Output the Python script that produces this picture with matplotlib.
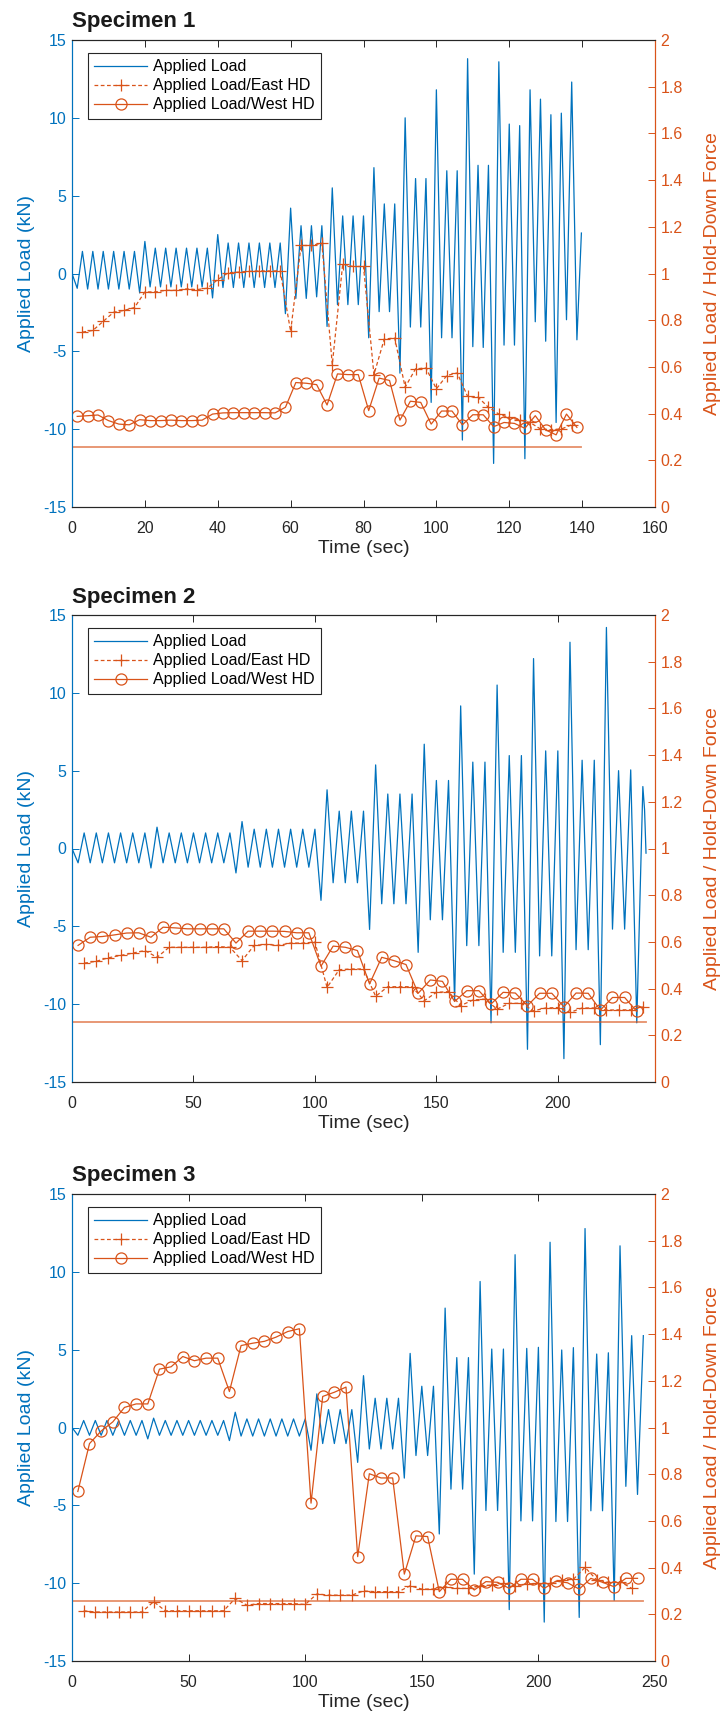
import matplotlib
matplotlib.use('Agg')
import matplotlib.pyplot as plt
import numpy as np
from matplotlib.ticker import FuncFormatter

plt.rcParams['font.family'] = ['Liberation Sans', 'DejaVu Sans']
plt.rcParams['axes.unicode_minus'] = False

BLUE = '#0072BD'
ORANGE = '#D95319'
DARK = '#262626'

# ---------------- Specimen 1 ----------------
s1_peak_t = [2.86, 5.71, 8.57, 11.43, 14.29, 17.14, 20.00, 22.86, 25.71, 28.57, 31.43, 34.29,
             37.14, 40.00, 42.86, 45.71, 48.57, 51.43, 54.29, 57.14, 60.00, 62.86, 65.71, 68.57,
             71.43, 74.29, 77.14, 80.00, 82.86, 85.71, 88.57, 91.43, 94.29, 97.14, 100.00, 102.86,
             105.71, 108.57, 111.43, 114.29, 117.14, 120.00, 122.86, 125.71, 128.57, 131.43, 134.29, 137.14]
s1_peak_v = [1.42, 1.42, 1.42, 1.42, 1.42, 1.42, 2.06, 1.63, 1.63, 1.63, 1.63, 1.63, 1.63,
             2.50, 1.96, 1.96, 1.96, 1.96, 1.96, 1.96, 4.20, 3.07, 3.07, 3.07, 5.50, 3.70, 3.70,
             3.70, 6.80, 4.47, 4.47, 10.0, 6.10, 6.10, 11.8, 6.60, 6.60, 13.8, 6.95, 6.95, 13.6,
             9.60, 9.50, 11.8, 11.2, 10.2, 10.3, 12.3]
s1_trough_t = [1.43, 4.29, 7.14, 10.00, 12.86, 15.71, 18.57, 21.43, 24.29, 27.14, 30.00, 32.86,
               35.71, 38.57, 41.43, 44.29, 47.14, 50.00, 52.86, 55.71, 58.57, 61.43, 64.29, 67.14,
               70.00, 72.86, 75.71, 78.57, 81.43, 84.29, 87.14, 90.00, 92.86, 95.71, 98.57, 101.43,
               104.29, 107.14, 110.00, 112.86, 115.71, 118.57, 121.43, 124.29, 127.14, 130.00,
               132.86, 135.71, 138.57]
s1_trough_v = [-0.95, -1.0, -1.0, -1.0, -1.0, -1.0, -1.25, -0.86, -0.86, -0.86, -0.86, -0.86,
               -0.86, -1.57, -0.9, -0.9, -0.9, -0.9, -0.9, -0.9, -2.58, -1.6, -1.6, -1.5, -3.4,
               -2.0, -2.0, -2.0, -4.13, -2.45, -2.45, -6.4, -3.44, -3.44, -8.28, -4.13, -4.13,
               -10.7, -4.7, -4.75, -12.2, -4.6, -4.6, -11.9, -3.1, -4.35, -9.57, -2.97, -4.26]
s1_start = (0.0, 0.0)
s1_end = [(139.8, 2.6)]
s1_east_v = [0.749, 0.756, 0.795, 0.834, 0.842, 0.854, 0.921, 0.921, 0.928, 0.928, 0.934, 0.931,
             0.937, 0.974, 1.003, 1.006, 1.009, 1.011, 1.011, 1.011, 0.752, 1.12, 1.12, 1.13,
             0.61, 1.04, 1.03, 1.03, 0.567, 0.72, 0.723, 0.513, 0.592, 0.595, 0.506, 0.563,
             0.574, 0.474, 0.47, 0.427, 0.398, 0.384, 0.372, 0.362, 0.334, 0.331, 0.334, 0.352]
s1_west_v = [0.388, 0.391, 0.394, 0.37, 0.355, 0.352, 0.374, 0.37, 0.37, 0.372, 0.37, 0.37,
             0.372, 0.398, 0.403, 0.404, 0.404, 0.404, 0.404, 0.403, 0.427, 0.533, 0.53, 0.524,
             0.437, 0.57, 0.567, 0.567, 0.413, 0.552, 0.542, 0.372, 0.453, 0.448, 0.355, 0.411,
             0.411, 0.352, 0.395, 0.395, 0.344, 0.362, 0.358, 0.337, 0.391, 0.33, 0.309, 0.398, 0.341]
s1_ref_t = [0.0, 139.8]
s1_ref_v = 0.257
s1_xticks = [0, 20, 40, 60, 80, 100, 120, 140, 160]

# ---------------- Specimen 2 ----------------
s2_peak_t = [5, 10, 15, 20, 25, 30, 35, 40, 45, 50, 55, 60, 65, 70, 75, 80, 85, 90, 95, 100,
             105, 110, 115, 120, 125, 130, 135, 140, 145, 150, 155, 160, 165, 170, 175, 180,
             185, 190, 195, 200, 205, 210, 215, 220, 225, 230, 235]
s2_peak_v = [1.0, 1.0, 1.0, 1.0, 1.0, 1.0, 1.37, 1.0, 1.0, 1.0, 1.0, 1.0, 1.0, 1.73, 1.24,
             1.24, 1.24, 1.24, 1.24, 1.24, 3.77, 2.4, 2.4, 2.4, 5.37, 3.5, 3.5, 3.5, 6.7, 4.37,
             4.37, 9.16, 5.55, 5.55, 10.5, 5.97, 5.97, 12.2, 6.27, 6.27, 13.25, 5.67, 5.67,
             14.2, 5.0, 5.05, 3.98]
s2_trough_t = [2.5, 7.5, 12.5, 17.5, 22.5, 27.5, 32.5, 37.5, 42.5, 47.5, 52.5, 57.5, 62.5,
               67.5, 72.5, 77.5, 82.5, 87.5, 92.5, 97.5, 102.5, 107.5, 112.5, 117.5, 122.5,
               127.5, 132.5, 137.5, 142.5, 147.5, 152.5, 157.5, 162.5, 167.5, 172.5, 177.5,
               182.5, 187.5, 192.5, 197.5, 202.5, 207.5, 212.5, 217.5, 222.5, 227.5, 232.5]
s2_trough_v = [-0.92, -0.92, -0.92, -0.92, -0.92, -0.92, -1.25, -0.92, -0.92, -0.92, -0.92,
               -0.92, -0.92, -1.57, -1.2, -1.2, -1.2, -1.2, -1.2, -1.2, -3.33, -2.2, -2.2, -2.2,
               -5.2, -3.55, -3.55, -3.55, -6.67, -4.58, -4.58, -9.8, -6.24, -6.24, -11.2, -6.67,
               -6.67, -12.9, -6.9, -6.9, -13.5, -6.5, -6.5, -12.6, -5.18, -5.18, -11.2]
s2_start = (0.0, 0.0)
s2_end = [(235.7, 2.5), (236.3, -0.3)]
s2_east_v = [0.509, 0.517, 0.532, 0.542, 0.552, 0.563, 0.534, 0.577, 0.577, 0.577, 0.577, 0.58,
             0.577, 0.52, 0.585, 0.589, 0.585, 0.595, 0.595, 0.599, 0.405, 0.481, 0.484, 0.484,
             0.367, 0.408, 0.408, 0.408, 0.348, 0.384, 0.387, 0.327, 0.351, 0.355, 0.312, 0.337,
             0.337, 0.305, 0.317, 0.319, 0.298, 0.317, 0.317, 0.308, 0.309, 0.309, 0.322]
s2_west_v = [0.585, 0.62, 0.623, 0.63, 0.638, 0.639, 0.62, 0.663, 0.66, 0.656, 0.656, 0.656,
             0.656, 0.595, 0.646, 0.646, 0.646, 0.645, 0.639, 0.639, 0.496, 0.582, 0.577, 0.563,
             0.42, 0.534, 0.52, 0.503, 0.38, 0.437, 0.431, 0.345, 0.391, 0.391, 0.334, 0.384,
             0.381, 0.327, 0.38, 0.38, 0.322, 0.381, 0.38, 0.308, 0.362, 0.362, 0.302]
s2_ref_t = [0.0, 236.3]
s2_ref_v = 0.258
s2_xticks = [0, 50, 100, 150, 200]

# ---------------- Specimen 3 ----------------
s3_peak_t = [5, 10, 15, 20, 25, 30, 35, 40, 45, 50, 55, 60, 65, 70, 75, 80, 85, 90, 95, 100,
             105, 110, 115, 120, 125, 130, 135, 140, 145, 150, 155, 160, 165, 170, 175, 180,
             185, 190, 195, 200, 205, 210, 215, 220, 225, 230, 235, 240, 245]
s3_peak_v = [0.45, 0.45, 0.45, 0.45, 0.45, 0.45, 0.6, 0.45, 0.45, 0.45, 0.45, 0.45, 0.45, 0.98,
             0.55, 0.55, 0.55, 0.55, 0.55, 0.55, 2.16, 1.15, 1.15, 1.15, 3.33, 1.88, 1.88, 1.88,
             4.76, 2.65, 2.65, 7.67, 4.49, 4.49, 9.38, 5.04, 5.04, 11.1, 5.08, 5.15, 11.9, 4.98,
             5.13, 12.78, 4.72, 4.8, 11.67, 5.9, 5.9]
s3_trough_t = [2.5, 7.5, 12.5, 17.5, 22.5, 27.5, 32.5, 37.5, 42.5, 47.5, 52.5, 57.5, 62.5,
               67.5, 72.5, 77.5, 82.5, 87.5, 92.5, 97.5, 102.5, 107.5, 112.5, 117.5, 122.5,
               127.5, 132.5, 137.5, 142.5, 147.5, 152.5, 157.5, 162.5, 167.5, 172.5, 177.5,
               182.5, 187.5, 192.5, 197.5, 202.5, 207.5, 212.5, 217.5, 222.5, 227.5, 232.5,
               237.5, 242.5]
s3_trough_v = [-0.5, -0.5, -0.5, -0.5, -0.5, -0.5, -0.73, -0.5, -0.5, -0.5, -0.5, -0.5, -0.5,
               -0.84, -0.55, -0.55, -0.55, -0.55, -0.55, -0.55, -1.46, -1.03, -1.03, -1.03,
               -2.24, -1.38, -1.38, -1.38, -3.25, -1.8, -1.8, -6.84, -3.96, -3.96, -9.42, -5.33,
               -5.33, -11.7, -6.0, -6.0, -12.5, -6.04, -6.04, -12.2, -5.35, -5.35, -11.1, -3.78, -4.3]
s3_start = (0.0, 0.0)
s3_end = []
s3_east_v = [0.215, 0.21, 0.21, 0.21, 0.21, 0.21, 0.254, 0.215, 0.215, 0.215, 0.215, 0.215,
             0.215, 0.268, 0.239, 0.246, 0.246, 0.246, 0.246, 0.242, 0.287, 0.282, 0.282, 0.282,
             0.3, 0.297, 0.297, 0.297, 0.322, 0.308, 0.308, 0.318, 0.311, 0.311, 0.322, 0.325,
             0.332, 0.322, 0.33, 0.332, 0.332, 0.347, 0.35, 0.401, 0.347, 0.337, 0.34, 0.311]
s3_west_v = [0.726, 0.931, 0.985, 1.024, 1.086, 1.101, 1.101, 1.25, 1.26, 1.304, 1.286, 1.297,
             1.297, 1.154, 1.351, 1.361, 1.369, 1.387, 1.411, 1.423, 0.676, 1.133, 1.151, 1.173,
             0.447, 0.802, 0.784, 0.784, 0.372, 0.536, 0.533, 0.297, 0.35, 0.35, 0.304, 0.34,
             0.337, 0.311, 0.35, 0.35, 0.311, 0.342, 0.335, 0.308, 0.354, 0.337, 0.318, 0.354, 0.354]
s3_ref_t = [0.0, 245.0]
s3_ref_v = 0.256
s3_xticks = [0, 50, 100, 150, 200, 250]

titles = ['Specimen 1', 'Specimen 2', 'Specimen 3']
legend_labels = ['Applied Load', 'Applied Load/East HD', 'Applied Load/West HD']
left_yticks = [-15, -10, -5, 0, 5, 10, 15]
right_yticks = [0, 0.2, 0.4, 0.6, 0.8, 1.0, 1.2, 1.4, 1.6, 1.8, 2.0]


def load_series(start, t_tr, v_tr, t_pk, v_pk, end):
    t = [start[0]] + list(t_tr) + list(t_pk) + [e[0] for e in end]
    v = [start[1]] + list(v_tr) + list(v_pk) + [e[1] for e in end]
    order = np.argsort(t, kind='stable')
    return np.asarray(t)[order], np.asarray(v)[order]


W, H = 728, 1720
fig = plt.figure(figsize=(W / 100, H / 100), dpi=100)

ax_left_px, ax_right_px = 72, 655
ax_h_px = 467
tops_px = [40, 615, 1194]

specs = [
    dict(title=titles[0], start=s1_start, tt=s1_trough_t, tv=s1_trough_v, pt=s1_peak_t, pv=s1_peak_v,
         end=s1_end, east=s1_east_v, west=s1_west_v, ref_t=s1_ref_t, ref_v=s1_ref_v,
         xlim=(0, 160), xticks=s1_xticks),
    dict(title=titles[1], start=s2_start, tt=s2_trough_t, tv=s2_trough_v, pt=s2_peak_t, pv=s2_peak_v,
         end=s2_end, east=s2_east_v, west=s2_west_v, ref_t=s2_ref_t, ref_v=s2_ref_v,
         xlim=(0, 240), xticks=s2_xticks),
    dict(title=titles[2], start=s3_start, tt=s3_trough_t, tv=s3_trough_v, pt=s3_peak_t, pv=s3_peak_v,
         end=s3_end, east=s3_east_v, west=s3_west_v, ref_t=s3_ref_t, ref_v=s3_ref_v,
         xlim=(0, 250), xticks=s3_xticks),
]

fmt = FuncFormatter(lambda v, p: f'{v:g}')

for spec, top in zip(specs, tops_px):
    rect = [ax_left_px / W, 1 - (top + ax_h_px) / H, (ax_right_px - ax_left_px) / W, ax_h_px / H]
    ax = fig.add_axes(rect)
    ax2 = ax.twinx()

    t, v = load_series(spec['start'], spec['tt'], spec['tv'], spec['pt'], spec['pv'], spec['end'])
    h_load, = ax.plot(t, v, color=BLUE, lw=0.9)

    ax2.plot(spec['ref_t'], [spec['ref_v'], spec['ref_v']], color=ORANGE, lw=1.3, alpha=0.65)
    east_t = spec['pt'][:len(spec['east'])]
    west_t = spec['tt'][:len(spec['west'])]
    h_east, = ax2.plot(east_t, spec['east'], color=ORANGE, ls=(0, (3, 2)), lw=0.9,
                       marker='+', ms=8, mew=0.9)
    h_west, = ax2.plot(west_t, spec['west'], color=ORANGE, ls='-', lw=0.9,
                       marker='o', ms=8, mfc='none', mew=0.9)

    ax.set_xlim(*spec['xlim'])
    ax.set_xticks(spec['xticks'])
    ax.set_ylim(-15, 15)
    ax.set_yticks(left_yticks)
    ax2.set_ylim(0, 2)
    ax2.set_yticks(right_yticks)
    ax2.yaxis.set_major_formatter(fmt)

    for a in (ax, ax2):
        a.spines['left'].set_color(BLUE)
        a.spines['right'].set_color(ORANGE)
        a.spines['top'].set_color(DARK)
        a.spines['bottom'].set_color(DARK)
        for s in a.spines.values():
            s.set_linewidth(0.8)

    ax.tick_params(axis='x', direction='in', top=True, length=5, width=0.7,
                   colors=DARK, labelsize=11.5, pad=10)
    ax.tick_params(axis='y', direction='in', length=5, width=0.7,
                   colors=BLUE, labelsize=11.5, pad=4)
    ax2.tick_params(axis='y', direction='in', length=5, width=0.7,
                    colors=ORANGE, labelsize=11.5, pad=4)

    ax.set_xlabel('Time (sec)', fontsize=14, color=DARK, labelpad=3)
    ax.set_ylabel('Applied Load (kN)', fontsize=14, color=BLUE, labelpad=6)
    ax2.set_ylabel('Applied Load / Hold-Down Force', fontsize=14, color=ORANGE, labelpad=15)
    ax.set_title(spec['title'], loc='left', fontsize=16, fontweight='bold', color='#1a1a1a', pad=9)

    leg = ax2.legend([h_load, h_east, h_west], legend_labels, loc='upper left',
                     bbox_to_anchor=(16 / (ax_right_px - ax_left_px), 1 - 13 / ax_h_px),
                     borderaxespad=0, fontsize=11.5, frameon=True, fancybox=False,
                     edgecolor=DARK, framealpha=1, handlelength=3.3, handletextpad=0.35,
                     labelspacing=0.25, borderpad=0.4, numpoints=1)
    leg.get_frame().set_linewidth(0.8)

fig.savefig('out.png', dpi=100)
